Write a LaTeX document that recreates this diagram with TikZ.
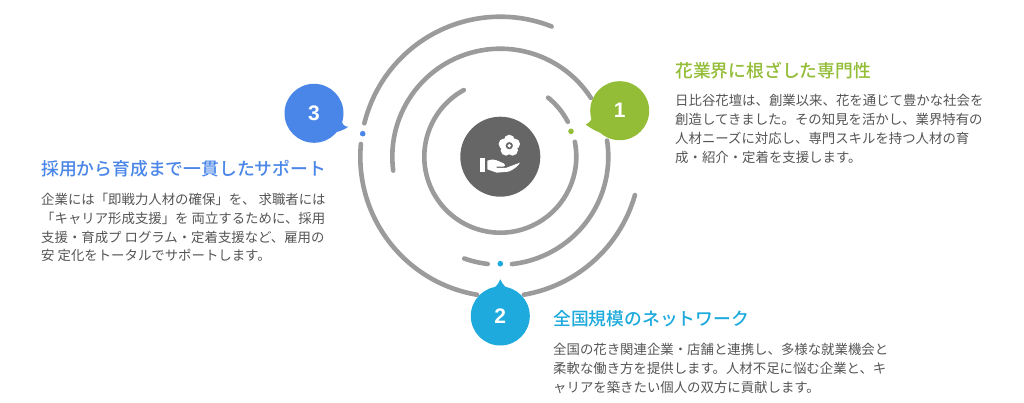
\documentclass[tikz,border=0pt]{standalone}
\usepackage{fontspec}
\setmainfont{Noto Sans CJK JP}
\newfontfamily\headfont{Noto Sans CJK JP Medium}
\newfontfamily\digitfont{Liberation Sans}
\definecolor{ringgray}{HTML}{9B9B9B}
\definecolor{hubgray}{HTML}{666666}
\definecolor{bodygray}{HTML}{555555}
\definecolor{cgreen}{HTML}{93BD36}
\definecolor{ccyan}{HTML}{1EAADC}
\definecolor{cblue}{HTML}{4A86E8}
\tikzset{
  ring/.style={draw=ringgray,line width=4.6pt,line cap=round},
  hub/.style={circle,fill=hubgray,minimum size=80pt,inner sep=0pt},
  bubble/.style={circle,minimum size=59pt,inner sep=0pt,text=white,font=\digitfont\bfseries\fontsize{21}{21}\selectfont},
  dotmark/.style={circle,minimum size=5.6pt,inner sep=0pt},
  headline/.style={anchor=west,inner sep=0pt,font=\headfont\fontsize{17.8}{20}\selectfont},
  bodytext/.style={anchor=north west,inner sep=0pt,align=left,text=bodygray,font=\fontsize{13.4}{18.8}\selectfont},
}
\begin{document}
\begin{tikzpicture}[x=1pt,y=1pt]
\useasboundingbox (0,0) rectangle (1024,402);
\fill[white] (0,0) rectangle (1024,402);
\coordinate (c) at (500.3,245.3);
% inner ring
\draw[ring] (c) ++(118.7:76pt) arc[start angle=118.7,end angle=371.3,radius=76pt];
\draw[ring] (c) ++(27.3:76pt) arc[start angle=27.3,end angle=51,radius=76pt];
% middle ring
\draw[ring] (c) ++(187.4:108pt) arc[start angle=187.4,end angle=33,radius=108pt];
\draw[ring] (c) ++(8.6:108pt) arc[start angle=8.6,end angle=-83.8,radius=108pt];
\draw[ring] (c) ++(-96.7:108pt) arc[start angle=-96.7,end angle=-109.5,radius=108pt];
% outer ring
\draw[ring] (c) ++(68.5:140pt) arc[start angle=68.5,end angle=166.2,radius=140pt];
\draw[ring] (c) ++(174.8:140pt) arc[start angle=174.8,end angle=260.4,radius=140pt];
\draw[ring] (c) ++(-80.3:140pt) arc[start angle=-80.3,end angle=-15.9,radius=140pt];
% hub
\node[hub] (hub) at (c) {};
% flower
\begin{scope}[shift={(509.3,256.3)}]
  \foreach \a in {90,162,234,306,18}
    \fill[white] (\a:5.6pt) circle (5.4pt);
  \fill[white] (0,0) circle (5pt);
  \fill[hubgray] (0,0) circle (3.6pt);
  \fill[white] (0,0) circle (1.9pt);
\end{scope}
% hand, in the coordinates of a 3x crop
\begin{scope}[shift={(475,272)},x=0.3333pt,y=-0.3333pt]
  \fill[white] (15,85) rectangle (30,125);
  \fill[white] (37,92) .. controls (50,87) and (60,88) .. (72,94)
    -- (86,100) .. controls (92,103) and (92,110) .. (85,110) -- (65,110)
    -- (65,114) -- (92,114) -- (135,98)
    .. controls (130,108) and (115,120) .. (100,125) -- (65,128) -- (37,118) -- cycle;
\end{scope}
% bubbles
\fill[cgreen] (585.7,277.3) .. controls (591,280) and (593,284) .. (594,292)
  -- (606,268) .. controls (598,269) and (592,273) .. cycle;
\node[bubble,fill=cgreen] (b1) at (619.7,291.3) {1};
\fill[ccyan] (500.3,122.7) .. controls (498,117) and (495,114) .. (488,110)
  -- (512.6,110) .. controls (506,114) and (502.6,117) .. cycle;
\node[bubble,fill=ccyan] (b2) at (500.3,86) {2};
\fill[cblue] (348.3,275.3) .. controls (344,275.5) and (342,277) .. (340,286)
  -- (332,268) .. controls (338,271) and (343,271) .. cycle;
\node[bubble,fill=cblue] (b3) at (314,288.7) {3};
% dots
\node[dotmark,fill=cgreen] (d1) at (571,270.7) {};
\node[dotmark,fill=ccyan] (d2) at (500.3,138.3) {};
\node[dotmark,fill=cblue] (d3) at (362.7,268.3) {};
% text
\node[headline,text=cgreen] (t1) at (675,331) {花業界に根ざした専門性};
\node[bodytext] (p1) at (675,307.5) {日比谷花壇は、創業以来、花を通じて豊かな社会を\\創造してきました。その知見を活かし、業界特有の\\人材ニーズに対応し、専門スキルを持つ人材の育\\成・紹介・定着を支援します。};
\node[headline,text=ccyan] (t2) at (553,83) {全国規模のネットワーク};
\node[bodytext] (p2) at (553,59) {全国の花き関連企業・店舗と連携し、多様な就業機会と\\柔軟な働き方を提供します。人材不足に悩む企業と、キ\\ャリアを築きたい個人の双方に貢献します。};
\node[headline,text=cblue] (t3) at (41,233.5) {採用から育成まで一貫したサポート};
\node[bodytext] (p3) at (41,209) {企業には「即戦力人材の確保」を、 求職者には\\「キャリア形成支援」を 両立するために、採用\\支援・育成プ ログラム・定着支援など、雇用の\\安 定化をトータルでサポートします。};
\end{tikzpicture}
\end{document}
